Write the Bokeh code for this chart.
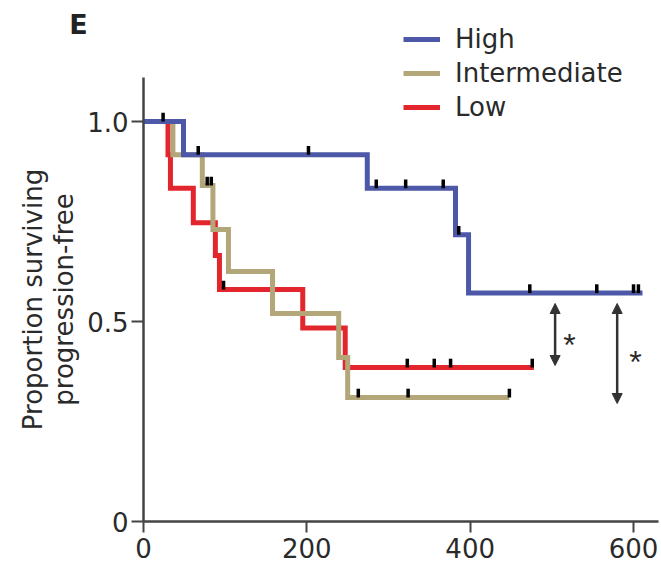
from bokeh.plotting import figure
from bokeh.models import (Range1d, FixedTicker, Legend, LegendItem, Label,
                          Arrow, NormalHead)
from bokeh.embed import file_html
from bokeh.resources import INLINE
from bokeh.core.properties import value

# ---------------- data ----------------
high_t = [0, 49, 274, 382, 398, 611]
high_s = [1.0, 0.917, 0.833, 0.717, 0.571, 0.571]
high_cens_t = [24, 202, 285, 321, 367, 386, 473, 555, 600, 606]
high_cens_s = [1.0, 0.917, 0.833, 0.833, 0.833, 0.717, 0.571, 0.571, 0.571, 0.571]

inter_t = [0, 36, 72, 85, 104, 158, 239, 250, 448]
inter_s = [1.0, 0.917, 0.84, 0.73, 0.625, 0.52, 0.41, 0.31, 0.31]
inter_cens_t = [67, 78, 83, 263, 324, 448]
inter_cens_s = [0.917, 0.84, 0.84, 0.31, 0.31, 0.31]

low_t = [0, 30, 33, 61, 88, 93, 195, 247, 478]
low_s = [1.0, 0.917, 0.833, 0.747, 0.665, 0.58, 0.484, 0.385, 0.385]
low_cens_t = [98, 323, 356, 376, 476]
low_cens_s = [0.58, 0.385, 0.385, 0.385, 0.385]

series_names = ["High", "Intermediate", "Low"]
x_ticks = [0, 200, 400, 600]
x_tick_labels = ["0", "200", "400", "600"]
y_ticks = [0, 0.5, 1.0]
y_tick_labels = ["0", "0.5", "1.0"]
x_axis_extent = (0, 631)
y_axis_extent = (0, 1.11)

# significance arrows (x, y_top, y_bottom) and star positions
arrow_x = [504, 580]
arrow_top = [0.545, 0.545]
arrow_bottom = [0.39, 0.295]
star_x = [521.6, 602.4]
star_y = [0.4425, 0.40]

# ---------------- styles ----------------
FONT = "DejaVu Sans"
STAR_FONT = "Liberation Sans"
C_HIGH = "#4d58a8"
C_INTER = "#b3a679"
C_LOW = "#e3262d"
TXT = "#2a2a2a"
CENS_H = 0.022

W, H = 661, 563
X0_PX, Y0_PX = 143, 521          # position of the data origin inside the figure
PX_X, PX_Y = 0.8167, 400.0      # pixels per data unit

p = figure(width=W, height=H, output_backend="svg", toolbar_location=None,
           title=None,
           x_range=Range1d(-X0_PX / PX_X, (W - X0_PX) / PX_X),
           y_range=Range1d(-(H - Y0_PX) / PX_Y, Y0_PX / PX_Y),
           min_border_left=0, min_border_right=0, min_border_top=0,
           min_border_bottom=0)
p.min_border = 0
p.outline_line_color = None
p.grid.visible = False
p.background_fill_color = "white"

# axes (fixed at the data origin)
for ax in (p.xaxis[0], p.yaxis[0]):
    ax.fixed_location = 0
    ax.axis_line_width = 2.5
    ax.axis_line_color = "#444444"
    ax.major_tick_line_width = 2
    ax.major_tick_line_color = "#444444"
    ax.major_tick_in = 0
    ax.minor_tick_line_color = None
    ax.major_label_text_font = FONT
    ax.major_label_text_color = TXT
    ax.major_label_text_font_size = "26px"

p.xaxis.bounds = x_axis_extent
p.xaxis.ticker = FixedTicker(ticks=x_ticks)
p.xaxis.major_label_overrides = {t: l for t, l in zip(x_ticks, x_tick_labels)}
p.xaxis.major_tick_out = 11
p.xaxis.major_label_standoff = 5

p.yaxis.bounds = y_axis_extent
p.yaxis.ticker = FixedTicker(ticks=y_ticks)
p.yaxis.major_label_overrides = {t: l for t, l in zip(y_ticks, y_tick_labels)}
p.yaxis.major_tick_out = 12
p.yaxis.major_label_standoff = 3
p.yaxis.axis_label = "Proportion surviving\nprogression-free"
p.yaxis.axis_label_text_font = FONT
p.yaxis.axis_label_text_font_size = "26px"
p.yaxis.axis_label_text_font_style = "normal"
p.yaxis.axis_label_text_color = TXT
p.yaxis.axis_label_standoff = 5
p.yaxis.axis_label_text_line_height = 1.05

# curves
r_low = p.step(low_t, low_s, mode="after", line_width=5, line_color=C_LOW, line_join="miter")
r_inter = p.step(inter_t, inter_s, mode="after", line_width=5, line_color=C_INTER, line_join="miter")
r_high = p.step(high_t, high_s, mode="after", line_width=5, line_color=C_HIGH, line_join="miter")

# censor marks
for ct, cs in ((low_cens_t, low_cens_s), (inter_cens_t, inter_cens_s), (high_cens_t, high_cens_s)):
    p.segment(x0=ct, y0=cs, x1=ct, y1=[s + CENS_H for s in cs],
              line_width=3.5, line_color="black")

# significance arrows
for ax_, yt, yb in zip(arrow_x, arrow_top, arrow_bottom):
    p.add_layout(Arrow(x_start=ax_, y_start=yb, x_end=ax_, y_end=yt,
                       start=NormalHead(size=10, fill_color="#333333", line_color="#333333", line_width=1),
                       end=NormalHead(size=10, fill_color="#333333", line_color="#333333", line_width=1),
                       line_width=2.5, line_color="#333333"))
p.text(x=star_x, y=star_y, text=["*", "*"], text_font=value(STAR_FONT), text_font_size="32px",
       text_color=TXT, text_align="center", text_baseline="middle")

# legend
legend = Legend(items=[LegendItem(label=series_names[0], renderers=[r_high]),
                       LegendItem(label=series_names[1], renderers=[r_inter]),
                       LegendItem(label=series_names[2], renderers=[r_low])],
                location=(403, 439), orientation="vertical")
legend.label_text_font = FONT
legend.label_text_font_size = "26px"
legend.label_text_color = TXT
legend.label_height = 34
legend.glyph_height = 34
legend.glyph_width = 37
legend.label_standoff = 15
legend.spacing = 0
legend.padding = 0
legend.margin = 0
legend.border_line_color = None
legend.background_fill_alpha = 0
p.add_layout(legend, "center")

# panel letter
p.add_layout(Label(x=78, y=H - 24, x_units="screen", y_units="screen", text="E",
                   text_font=FONT, text_font_size="27px", text_font_style="bold",
                   text_color="#222222", text_align="center", text_baseline="middle"))

open("out.html", "w").write(file_html(p, INLINE))
